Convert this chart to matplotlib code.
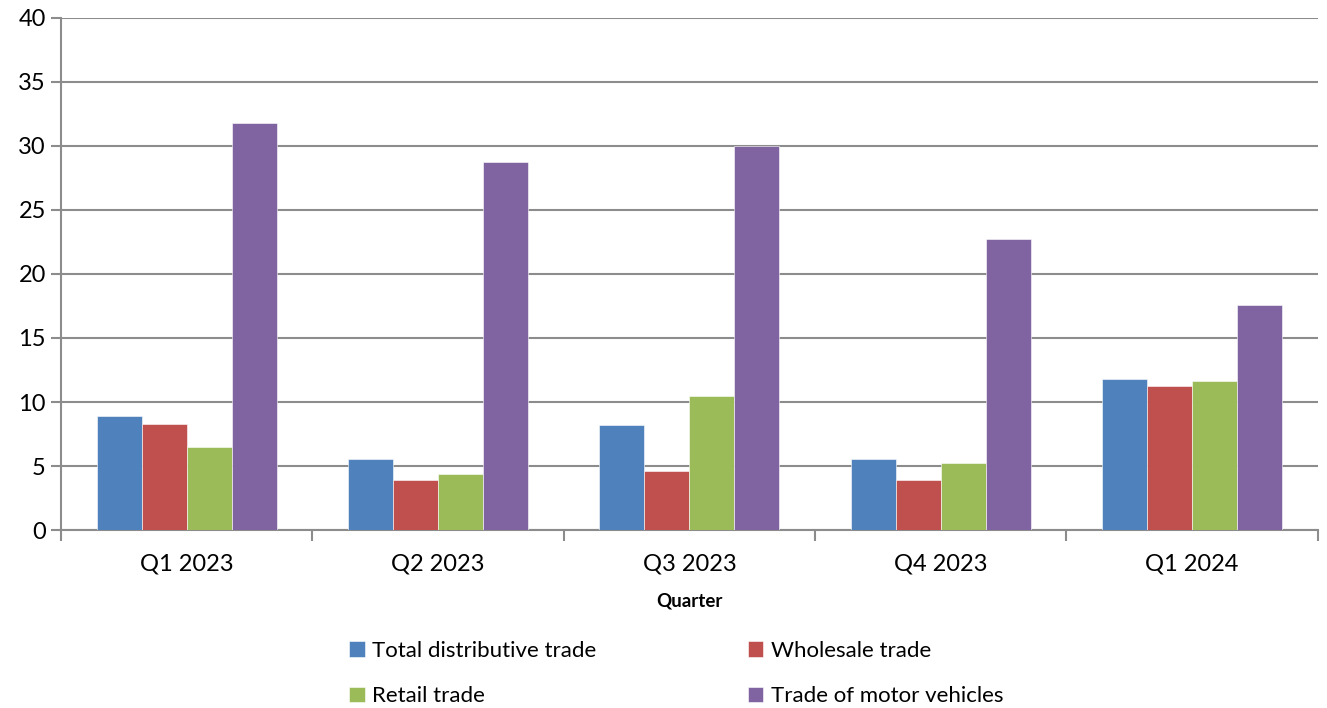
import matplotlib
matplotlib.use("Agg")
import matplotlib.pyplot as plt
import numpy as np

quarters = ["Q1 2023", "Q2 2023", "Q3 2023", "Q4 2023", "Q1 2024"]
total = [8.9, 5.55, 8.2, 5.55, 11.8]
wholesale = [8.3, 3.9, 4.6, 3.9, 11.25]
retail = [6.45, 4.4, 10.5, 5.2, 11.65]
motor = [31.8, 28.75, 30.0, 22.7, 17.6]

series = [("Total distributive trade", total, "#4F81BD"),
          ("Wholesale trade", wholesale, "#C0504D"),
          ("Retail trade", retail, "#9BBB59"),
          ("Trade of motor vehicles", motor, "#8064A2")]

plt.rcParams["font.family"] = ["Lato", "DejaVu Sans"]
GRID = "#8C8C8C"

fig = plt.figure(figsize=(13.27, 7.08), dpi=100)
ax = fig.add_axes([0.046, 0.2514, 0.947, 0.7232])

x = np.arange(len(quarters))
w = 0.179
handles = {}
for i, (name, vals, col) in enumerate(series):
    b = ax.bar(x + (i - 1.5) * w, vals, w, color=col, label=name, zorder=3,
               edgecolor="white", linewidth=0.4)
    handles[name] = b

ax.set_xlim(-0.5, len(quarters) - 0.5)
ax.set_ylim(0, 40)
ax.set_yticks(np.arange(0, 41, 5))
ax.yaxis.grid(True, color=GRID, linewidth=1.5, zorder=0)
ax.set_axisbelow(True)
for s in ["top", "right"]:
    ax.spines[s].set_visible(False)
for s in ["left", "bottom"]:
    ax.spines[s].set_color(GRID)
    ax.spines[s].set_linewidth(1.5)

ax.set_xticks(x)
ax.set_xticklabels(quarters, fontsize=17)
ax.set_xticks(np.arange(-0.5, len(quarters)), minor=True)
ax.tick_params(axis="x", which="major", length=0, pad=17)
ax.tick_params(axis="x", which="minor", length=8, width=1.5, color=GRID)
ax.tick_params(axis="y", length=7, width=1.5, color=GRID, labelsize=17, pad=4)

ax.set_xlabel("Quarter", fontsize=13.5, fontweight="bold", labelpad=13)

order = ["Total distributive trade", "Retail trade", "Wholesale trade", "Trade of motor vehicles"]
fig.legend([handles[n] for n in order], order, ncol=2, frameon=False,
           loc="center left", bbox_to_anchor=(0.248, 0.049), fontsize=16,
           handlelength=0.7, handleheight=0.7, handletextpad=0.35,
           columnspacing=6.8, labelspacing=1.15)

fig.savefig("out.png", dpi=100, facecolor="white")
